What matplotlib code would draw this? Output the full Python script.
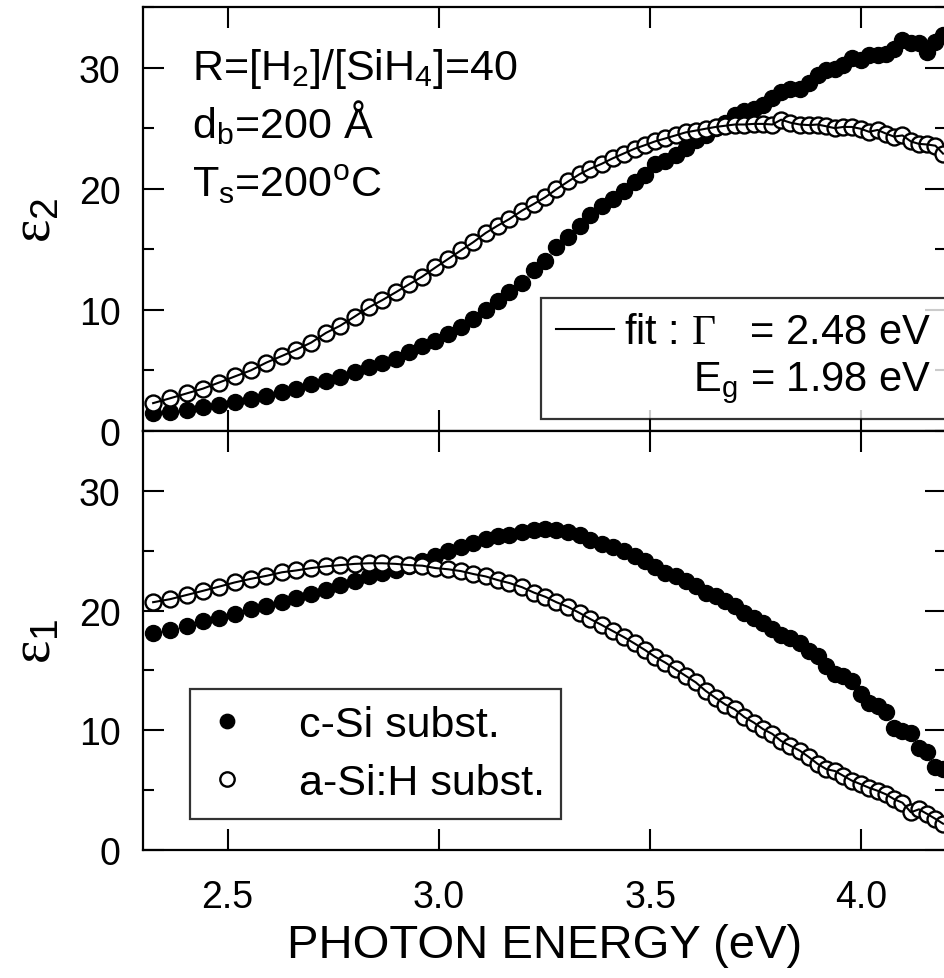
import numpy as np
import matplotlib.pyplot as plt
from matplotlib.lines import Line2D
from matplotlib.legend_handler import HandlerLine2D
from matplotlib.ticker import MultipleLocator

plt.rcParams['font.family'] = ['Liberation Sans', 'DejaVu Sans']
plt.rcParams['mathtext.fontset'] = 'custom'
plt.rcParams['mathtext.rm'] = 'Liberation Sans'
plt.rcParams['mathtext.it'] = 'Liberation Sans:italic'
plt.rcParams['mathtext.sf'] = 'Liberation Serif'
plt.rcParams['mathtext.default'] = 'rm'

# photon energy grid (eV), shared by both samples
energy = [2.324, 2.364, 2.403, 2.442, 2.480, 2.517, 2.555, 2.592, 2.629, 2.662,
          2.698, 2.733, 2.767, 2.801, 2.834, 2.866, 2.898, 2.929, 2.961, 2.992,
          3.022, 3.052, 3.082, 3.111, 3.139, 3.167, 3.197, 3.225, 3.252, 3.278,
          3.306, 3.333, 3.358, 3.385, 3.411, 3.437, 3.463, 3.488, 3.511, 3.536,
          3.560, 3.584, 3.608, 3.631, 3.655, 3.678, 3.700, 3.723, 3.745, 3.767,
          3.789, 3.810, 3.832, 3.854, 3.876, 3.896, 3.917, 3.937, 3.957, 3.977,
          3.998, 4.018, 4.038, 4.058, 4.077, 4.097, 4.117, 4.136, 4.156, 4.175,
          4.193]

# epsilon_2, c-Si substrate (filled)
eps2_csi = [1.45, 1.55, 1.75, 1.95, 2.15, 2.4, 2.65, 2.9, 3.2, 3.5,
            3.85, 4.15, 4.45, 4.85, 5.25, 5.6, 5.95, 6.55, 7.05, 7.45,
            8.0, 8.55, 9.25, 9.95, 10.75, 11.45, 12.25, 13.25, 14.05, 15.15,
            16.05, 16.95, 17.8, 18.55, 19.15, 19.85, 20.55, 21.1, 22.05, 22.3,
            22.75, 23.4, 24.0, 24.4, 25.0, 25.45, 26.05, 26.4, 26.6, 26.9,
            27.45, 28.0, 28.25, 28.25, 28.7, 29.35, 29.8, 29.85, 30.2, 30.75,
            30.6, 31.0, 31.0, 31.15, 31.55, 32.25, 32.0, 32.0, 31.3, 32.1,
            32.65]

# epsilon_2, a-Si:H substrate (open)
eps2_asi = [2.3, 2.7, 3.1, 3.5, 4.0, 4.5, 5.0, 5.65, 6.2, 6.7,
            7.3, 8.1, 8.7, 9.45, 10.2, 10.8, 11.45, 12.1, 12.75, 13.5,
            14.2, 14.9, 15.6, 16.35, 16.95, 17.5, 18.2, 18.75, 19.3, 19.95,
            20.6, 21.2, 21.65, 22.05, 22.5, 22.9, 23.3, 23.6, 23.9, 24.15,
            24.4, 24.65, 24.8, 24.95, 25.1, 25.2, 25.3, 25.3, 25.35, 25.35,
            25.3, 25.7, 25.45, 25.3, 25.25, 25.3, 25.15, 25.0, 25.1, 25.1,
            24.95, 24.7, 24.85, 24.55, 24.3, 24.4, 23.9, 23.7, 23.65, 23.55,
            22.9]

# epsilon_1, c-Si substrate (filled)
eps1_csi = [18.15, 18.4, 18.75, 19.1, 19.4, 19.75, 20.1, 20.35, 20.75, 21.05,
            21.4, 21.75, 22.1, 22.45, 22.85, 23.1, 23.4, 23.75, 24.15, 24.55,
            25.0, 25.3, 25.65, 25.95, 26.2, 26.35, 26.55, 26.7, 26.8, 26.75,
            26.6, 26.3, 25.9, 25.6, 25.3, 24.95, 24.6, 24.15, 23.6, 23.15,
            22.85, 22.45, 22.05, 21.5, 21.2, 20.8, 20.35, 19.8, 19.4, 18.95,
            18.45, 18.0, 17.7, 17.3, 16.6, 16.2, 15.4, 14.7, 14.5, 14.1,
            13.0, 12.3, 12.05, 11.5, 10.2, 9.95, 9.8, 8.55, 8.15, 6.9,
            6.75]

# epsilon_1, a-Si:H substrate (open)
eps1_asi = [20.7, 20.95, 21.3, 21.65, 22.0, 22.35, 22.65, 22.9, 23.2, 23.35,
            23.55, 23.7, 23.8, 23.9, 23.95, 23.95, 23.9, 23.8, 23.75, 23.55,
            23.45, 23.3, 23.05, 22.85, 22.55, 22.3, 21.95, 21.5, 21.15, 20.7,
            20.3, 19.8, 19.3, 18.8, 18.3, 17.8, 17.25, 16.7, 16.15, 15.65,
            15.1, 14.55, 14.0, 13.3, 12.7, 12.15, 11.75, 11.1, 10.65, 10.1,
            9.7, 9.1, 8.7, 8.3, 7.75, 7.2, 6.75, 6.6, 6.2, 5.8,
            5.5, 5.2, 4.95, 4.65, 4.25, 3.95, 3.15, 3.4, 3.0, 2.6,
            2.2]


class TopLineHandler(HandlerLine2D):
    """Put the line sample next to the first line of a two-line label."""
    def create_artists(self, legend, orig_handle, xdescent, ydescent,
                       width, height, fontsize, trans):
        return super().create_artists(legend, orig_handle, xdescent,
                                      ydescent - 1.45 * fontsize, width,
                                      height, fontsize, trans)


W, H = 945, 979
fig = plt.figure(figsize=(W / 100, H / 100), dpi=100)
ax2 = fig.add_axes([143 / W, (H - 432) / H, 803 / W, 424 / H])
ax1 = fig.add_axes([143 / W, (H - 851) / H, 803 / W, 419 / H])

ms = 11.5
for ax, filled, opened in ((ax2, eps2_csi, eps2_asi), (ax1, eps1_csi, eps1_asi)):
    ax.plot(energy, filled, 'o', ms=ms, color='black', zorder=3,
            label='c-Si subst.')
    ax.plot(energy, opened, 'o', ms=ms, mfc='white', mec='black', mew=1.7,
            zorder=4, label='a-Si:H subst.')
    ax.plot(energy, opened, '-', color='black', lw=1.5, zorder=5)
    ax.set_xlim(2.3, 4.2)
    ax.set_ylim(0, 35)
    ax.xaxis.set_major_locator(MultipleLocator(0.5))
    ax.yaxis.set_major_locator(MultipleLocator(10))
    ax.yaxis.set_minor_locator(MultipleLocator(5))
    ax.tick_params(which='both', direction='in', top=True, right=True,
                   width=1.5, labelsize=27)
    ax.tick_params(which='major', length=15)
    ax.tick_params(which='minor', length=8)
    ax.tick_params(axis='y', pad=16)
    ax.tick_params(axis='x', pad=21)
    for s in ax.spines.values():
        s.set_linewidth(1.6)

ax2.tick_params(axis='x', labelbottom=False)
ax1.set_xticks([2.5, 3.0, 3.5, 4.0])
ax1.set_xticklabels(['2.5', '3.0', '3.5', '4.0'])

ax2.set_ylabel(r'$\mathsf{\varepsilon}_2$', fontsize=40)
ax1.set_ylabel(r'$\mathsf{\varepsilon}_1$', fontsize=40)
ax2.yaxis.set_label_coords(-0.10, 0.5)
ax1.yaxis.set_label_coords(-0.10, 0.5)
ax1.set_xlabel('PHOTON ENERGY (eV)', fontsize=34, labelpad=6)

# sample conditions
ax2.text(0.061, 0.830, r'R=[H$_2$]/[SiH$_4$]=40', transform=ax2.transAxes,
         fontsize=31, va='baseline')
ax2.text(0.061, 0.693, r'd$_b$=200 Å', transform=ax2.transAxes,
         fontsize=31, va='baseline')
ax2.text(0.061, 0.554, r'T$_s$=200$^o$C', transform=ax2.transAxes,
         fontsize=31, va='baseline')

# fit legend
fit_handle = Line2D([], [], color='black', lw=1.5)
leg2 = ax2.legend([fit_handle],
                  [r'fit : $\mathsf{\Gamma}$   = 2.48 eV' + '\n' + r'E$_g$ = 1.98 eV'],
                  handler_map={Line2D: TopLineHandler()},
                  loc='lower right', bbox_to_anchor=(1.0, 0.028),
                  borderaxespad=0, fontsize=30, frameon=True, fancybox=False,
                  handlelength=1.4, handletextpad=0.25, borderpad=0.35)
leg2.get_frame().set_edgecolor('black')
leg2.get_frame().set_linewidth(1.6)
for t in leg2.get_texts():
    t.set_multialignment('right')

# sample legend
leg1 = ax1.legend(loc='lower left', bbox_to_anchor=(0.0585, 0.074),
                  borderaxespad=0, fontsize=31, frameon=True, fancybox=False,
                  handlelength=1.0, handletextpad=1.16, borderpad=0.37,
                  labelspacing=0.42, numpoints=1, markerscale=0.9)
leg1.get_frame().set_edgecolor('black')
leg1.get_frame().set_linewidth(1.6)

fig.savefig('out.png', dpi=100)
